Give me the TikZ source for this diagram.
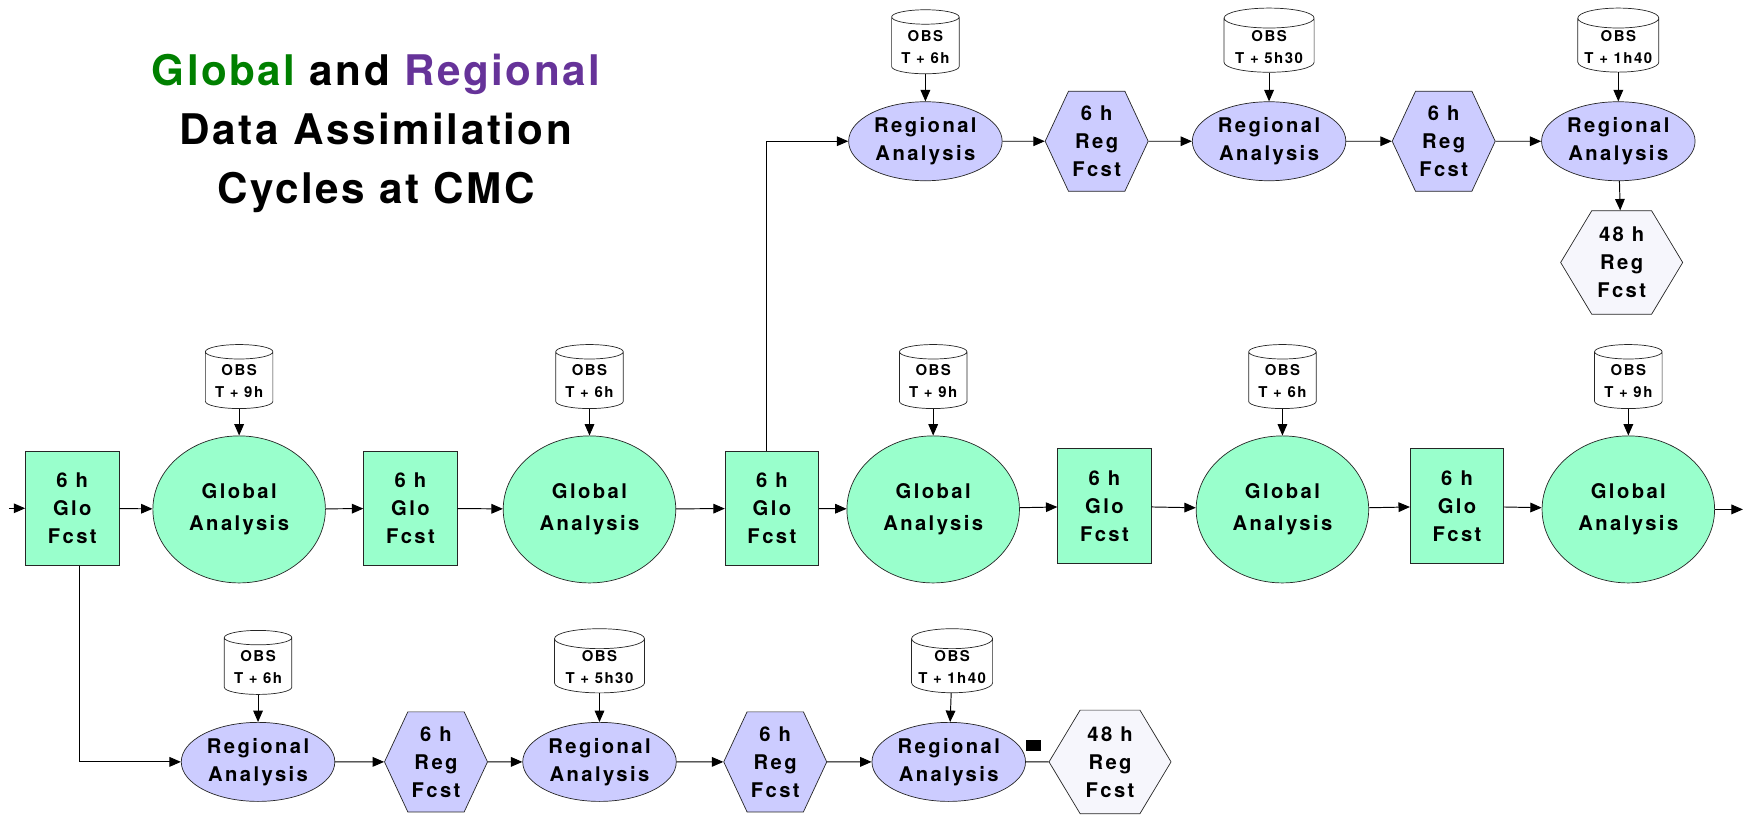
\documentclass[tikz,border=0pt]{standalone}
\usepackage{fontspec}
\setmainfont{TeX Gyre Heros}
\usetikzlibrary{shapes.geometric, shapes.symbols, arrows.meta}
\definecolor{mint}{RGB}{153,255,204}
\definecolor{lavender}{RGB}{204,204,255}
\definecolor{paleblue}{RGB}{246,246,252}
\definecolor{glogreen}{RGB}{0,128,0}
\definecolor{regpurple}{RGB}{102,51,153}
\newcommand{\lblfont}{\addfontfeature{LetterSpace=12}\fontsize{11.5}{16}\selectfont\bfseries}
\newcommand{\anafont}{\addfontfeature{LetterSpace=12}\fontsize{11.5}{18}\selectfont\bfseries}
\newcommand{\obsfont}{\addfontfeature{LetterSpace=10}\fontsize{8.5}{12.5}\selectfont\bfseries}
\newcommand{\ttlfont}{\addfontfeature{LetterSpace=6}\fontsize{24}{33.4}\selectfont\bfseries}
\tikzset{%
    glofcst/.style={draw=black!85, fill=mint, minimum width=18.7mm, minimum height=22.9mm, align=center, font=\lblfont},
    gloana/.style={ellipse, draw=black!85, fill=mint, minimum width=34.5mm, minimum height=29.4mm, align=center, font=\anafont},
    regana/.style={ellipse, draw=black!85, fill=lavender, minimum width=30.7mm, minimum height=15.8mm, inner sep=0pt, align=center, font=\lblfont},
    regfcst/.style={signal, signal to=east and west, signal pointer angle=130, draw=black!85, fill=lavender, minimum width=20.6mm, minimum height=20mm, inner sep=0pt, align=center, font=\lblfont},
    longfcst/.style={regfcst, fill=paleblue, signal pointer angle=118, minimum width=24.4mm, minimum height=20.7mm},
    obs/.style={cylinder, shape border rotate=90, aspect=0.28, draw=black!85, fill=white, minimum width=13.5mm, minimum height=12.8mm, inner sep=1pt, align=center, font=\obsfont},
    flow/.style={-{Triangle[length=6.5pt, width=5.5pt]}, line width=0.55pt}
}

\begin{document}
\begin{tikzpicture}[x=0.2224mm, y=-0.2224mm]
    \useasboundingbox (0,0) rectangle (1568,732);

    \node[align=center, font=\ttlfont] (ttl) at (338,120)
        {\textcolor{glogreen}{Global} and \textcolor{regpurple}{Regional}\\Data Assimilation\\Cycles at CMC};

    % global cycle
    \coordinate (in) at (8,457);
    \node[glofcst] (b1) at (65,457) {6 h\\Glo\\Fcst};
    \node[gloana] (e1) at (215,458) {Global\\Analysis};
    \node[glofcst] (b2) at (369,457) {6 h\\Glo\\Fcst};
    \node[gloana] (e2) at (530,458) {Global\\Analysis};
    \node[glofcst] (b3) at (694,457) {6 h\\Glo\\Fcst};
    \node[gloana] (e3) at (839,458) {Global\\Analysis};
    \node[glofcst] (b4) at (993,455) {6 h\\Glo\\Fcst};
    \node[gloana] (e4) at (1153,458) {Global\\Analysis};
    \node[glofcst] (b5) at (1310,455) {6 h\\Glo\\Fcst};
    \node[gloana] (e5) at (1464,458) {Global\\Analysis};
    \coordinate (out) at (1567,458);

    \node[obs] (o1) at (215,343) {OBS\\T + 9h};
    \node[obs] (o2) at (530,343) {OBS\\T + 6h};
    \node[obs] (o3) at (839,343) {OBS\\T + 9h};
    \node[obs] (o4) at (1153,343) {OBS\\T + 6h};
    \node[obs] (o5) at (1464,343) {OBS\\T + 9h};

    \draw[flow] (in) -- (b1);
    \draw[flow] (b1) -- (e1);
    \draw[flow] (e1) -- (b2);
    \draw[flow] (b2) -- (e2);
    \draw[flow] (e2) -- (b3);
    \draw[flow] (b3) -- (e3);
    \draw[flow] (e3) -- (b4);
    \draw[flow] (b4) -- (e4);
    \draw[flow] (e4) -- (b5);
    \draw[flow] (b5) -- (e5);
    \draw[flow] (e5) -- (out);
    \foreach \i in {1,...,5}
        \draw[flow] (o\i) -- (e\i);

    % regional cycle, top
    \node[regana] (rt1) at (832,127) {Regional\\Analysis};
    \node[regfcst] (ht1) at (986,127) {6 h\\Reg\\Fcst};
    \node[regana] (rt2) at (1141,127) {Regional\\Analysis};
    \node[regfcst] (ht2) at (1298,127) {6 h\\Reg\\Fcst};
    \node[regana] (rt3) at (1455,127) {Regional\\Analysis};
    \node[longfcst] (lt) at (1458,236) {48 h\\Reg\\Fcst};

    \node[obs] (ot1) at (832,42) {OBS\\T + 6h};
    \node[obs, minimum width=18mm] (ot2) at (1141,42) {OBS\\T + 5h30};
    \node[obs, minimum width=16.2mm] (ot3) at (1455,42) {OBS\\T + 1h40};

    \draw[flow] ([xshift=-1mm]b3.north) |- (rt1);
    \draw[flow] (rt1) -- (ht1);
    \draw[flow] (ht1) -- (rt2);
    \draw[flow] (rt2) -- (ht2);
    \draw[flow] (ht2) -- (rt3);
    \draw[flow] (rt3) -- (lt);
    \foreach \i in {1,2,3}
        \draw[flow] (ot\i) -- (rt\i);

    % regional cycle, bottom
    \node[regana] (rb1) at (232,685) {Regional\\Analysis};
    \node[regfcst] (hb1) at (392,685) {6 h\\Reg\\Fcst};
    \node[regana] (rb2) at (539,685) {Regional\\Analysis};
    \node[regfcst] (hb2) at (697,685) {6 h\\Reg\\Fcst};
    \node[regana] (rb3) at (853,685) {Regional\\Analysis};
    \node[longfcst] (lb) at (998,685) {48 h\\Reg\\Fcst};
    \node[fill=black, minimum width=3.1mm, minimum height=2.2mm, inner sep=0pt] (sq) at (929,670) {};

    \node[obs] (ob1) at (232,600) {OBS\\T + 6h};
    \node[obs, minimum width=18mm] (ob2) at (539,600) {OBS\\T + 5h30};
    \node[obs, minimum width=16.2mm] (ob3) at (856,600) {OBS\\T + 1h40};

    \draw[flow] ([xshift=1.5mm]b1.south) |- (rb1);
    \draw[flow] (rb1) -- (hb1);
    \draw[flow] (hb1) -- (rb2);
    \draw[flow] (rb2) -- (hb2);
    \draw[flow] (hb2) -- (rb3);
    \draw[line width=0.55pt] (rb3) -- (lb);
    \foreach \i in {1,2,3}
        \draw[flow] (ob\i) -- (rb\i);
\end{tikzpicture}
\end{document}
